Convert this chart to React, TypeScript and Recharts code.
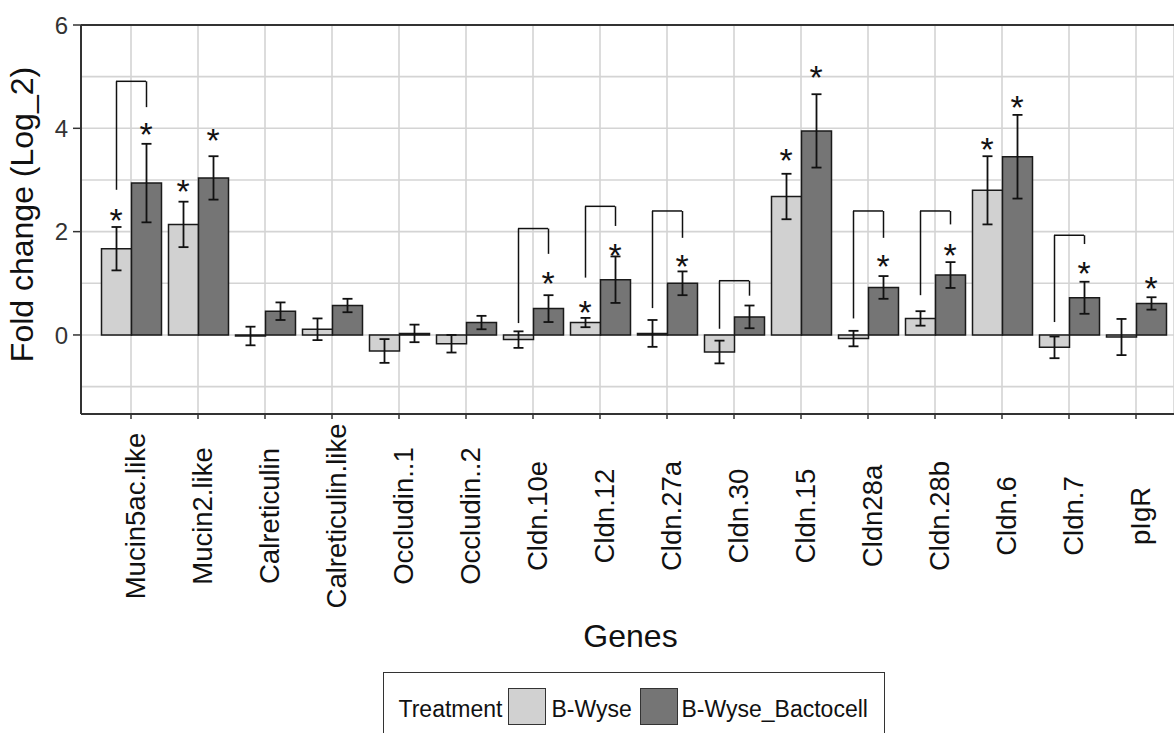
import React from 'react';
import { BarChart, Bar, XAxis, YAxis, CartesianGrid, ErrorBar, ReferenceDot, ReferenceLine, Legend } from 'recharts';

const genes = [
  'Mucin5ac.like', 'Mucin2.like', 'Calreticulin', 'Calreticulin.like', 'Occludin..1', 'Occludin..2',
  'Cldn.10e', 'Cldn.12', 'Cldn.27a', 'Cldn.30', 'Cldn.15', 'Cldn28a', 'Cldn.28b', 'Cldn.6', 'Cldn.7', 'pIgR',
];

// mean log2 fold change and standard error per treatment
const bWyse = [1.67, 2.14, -0.02, 0.11, -0.31, -0.17, -0.09, 0.24, 0.03, -0.33, 2.68, -0.07, 0.32, 2.8, -0.24, -0.04];
const bWyseSe = [0.42, 0.44, 0.18, 0.21, 0.23, 0.17, 0.16, 0.09, 0.26, 0.22, 0.44, 0.15, 0.14, 0.66, 0.21, 0.35];
const bactocell = [2.94, 3.04, 0.46, 0.57, 0.03, 0.24, 0.51, 1.07, 1.0, 0.35, 3.95, 0.92, 1.16, 3.45, 0.72, 0.61];
const bactocellSe = [0.76, 0.42, 0.17, 0.13, 0.17, 0.13, 0.26, 0.45, 0.23, 0.22, 0.71, 0.22, 0.25, 0.81, 0.31, 0.12];

// asterisk heights (null = not significant)
const starBWyse = [2.38, 2.94, null, null, null, null, null, 0.6, null, null, 3.54, null, null, 3.75, null, null];
const starBactocell = [4.04, 3.92, null, null, null, null, 1.16, 1.69, 1.48, null, 5.15, 1.48, 1.69, 4.56, 1.35, 1.06];

// comparison brackets: top height, left leg end, right leg end
const bracketTop = [4.91, null, null, null, null, null, 2.06, 2.49, 2.4, 1.05, null, 2.4, 2.4, null, 1.93, null];
const bracketLeft = [2.81, null, null, null, null, null, 0.23, 1.11, 0.52, 0.12, null, 0.32, 0.77, null, 0.25, null];
const bracketRight = [4.41, null, null, null, null, null, 1.57, 2.11, 1.88, 0.76, null, 1.88, 2.14, null, 1.76, null];

const yTicks = [-1, 0, 1, 2, 3, 4, 5, 6];
const yLabelled = [0, 2, 4, 6];

const FONT = '"Liberation Sans", Arial, sans-serif';
const DODGE = 15;
const STAR_SIZE = 34;

const data = genes.map((gene, i) => ({
  gene,
  bw: bWyse[i],
  bwSe: bWyseSe[i],
  bc: bactocell[i],
  bcSe: bactocellSe[i],
  bwLeg: bracketTop[i] == null ? null : [bWyse[i] - (bracketLeft[i] as number), (bracketTop[i] as number) - bWyse[i]],
  bcLeg: bracketTop[i] == null ? null : [bactocell[i] - (bracketRight[i] as number), (bracketTop[i] as number) - bactocell[i]],
}));

function XTick(props: any) {
  const { x, y, payload } = props;
  return (
    <text transform={`translate(${x + 14},${y + 95}) rotate(-90)`} textAnchor="middle"
      fontSize={27.5} fill="#111" fontFamily={FONT}>{payload.value}</text>
  );
}

function YTick(props: any) {
  const { x, y, payload } = props;
  if (!yLabelled.includes(payload.value)) return <g />;
  return (
    <g>
      <line x1={x} x2={x + 8} y1={y} y2={y} stroke="#333" strokeWidth={1.5} />
      <text x={x - 5} y={y} dy="0.36em" textAnchor="end" fontSize={24} fill="#333" fontFamily={FONT}>{payload.value}</text>
    </g>
  );
}

const star = (shift: number) => (p: any) => (
  <text x={p.cx + shift} y={p.cy + STAR_SIZE * 0.58} textAnchor="middle" fontSize={STAR_SIZE} fill="#111" fontFamily={FONT}>*</text>
);

const bracketBar = (p: any) => (
  <line x1={p.cx - DODGE} x2={p.cx + DODGE} y1={p.cy} y2={p.cy} stroke="#111" strokeWidth={1.5} />
);

function LegendBox(props: any) {
  const items = props.payload || [];
  const keyLeft = [123.5, 255.5];
  const textLeft = [167.5, 297.5];
  return (
    <div style={{ position: 'relative', width: 502, height: 61, boxSizing: 'border-box', border: '1.5px solid #333',
      borderBottom: 'none', background: '#fff', fontFamily: FONT, fontSize: 23, color: '#111', lineHeight: '26px' }}>
      <span style={{ position: 'absolute', left: 14.5, top: 23 }}>Treatment</span>
      {items.map((it: any, i: number) => (
        <React.Fragment key={it.value}>
          <span style={{ position: 'absolute', left: keyLeft[i], top: 14.5, width: 38, height: 37, boxSizing: 'border-box',
            background: it.color, border: '1.5px solid #333' }} />
          <span style={{ position: 'absolute', left: textLeft[i], top: 23, whiteSpace: 'nowrap' }}>{it.value}</span>
        </React.Fragment>
      ))}
    </div>
  );
}

export default function App() {
  return (
    <div style={{ position: 'absolute', left: 0, top: 0, background: '#fff' }}>
      <BarChart width={1174} height={733} data={data} margin={{ top: 25, right: 0, bottom: 0, left: 0 }} barGap={0}>
        <CartesianGrid stroke="#d4d4d4" strokeWidth={1.6} />
        <XAxis dataKey="gene" interval={0} height={319} padding={{ left: 16.5, right: 4.5 }}
          axisLine={{ stroke: '#333', strokeWidth: 2 }} tickLine={{ stroke: '#333', strokeWidth: 1.5 }} tickSize={5}
          tick={<XTick />}
          label={(p: any) => (
            <text x={p.viewBox.x + p.viewBox.width / 2 + 3} y={p.viewBox.y + 233} textAnchor="middle"
              fontSize={32} fill="#111" fontFamily={FONT}>Genes</text>
          )} />
        <YAxis type="number" domain={[-1.53, 6]} allowDataOverflow ticks={yTicks} interval={0} width={81}
          axisLine={{ stroke: '#333', strokeWidth: 2 }} tickLine={false} tickSize={8} tickMargin={0}
          tick={<YTick />}
          label={(p: any) => (
            <text transform={`translate(33,${p.viewBox.y + p.viewBox.height / 2 - 5}) rotate(-90)`} textAnchor="middle"
              fontSize={32} fill="#111" fontFamily={FONT}>Fold change (Log_2)</text>
          )} />
        <ReferenceLine y={6} stroke="#333" strokeWidth={2} />
        <Bar dataKey="bw" name="B-Wyse" fill="#d1d1d1" stroke="#1a1a1a" strokeWidth={1.5} barSize={30} isAnimationActive={false}>
          <ErrorBar dataKey="bwSe" width={5} stroke="#111" strokeWidth={1.8} isAnimationActive={false} />
          <ErrorBar dataKey="bwLeg" width={0} stroke="#111" strokeWidth={1.5} isAnimationActive={false} />
        </Bar>
        <Bar dataKey="bc" name="B-Wyse_Bactocell" fill="#757575" stroke="#1a1a1a" strokeWidth={1.5} barSize={30} isAnimationActive={false}>
          <ErrorBar dataKey="bcSe" width={5} stroke="#111" strokeWidth={1.8} isAnimationActive={false} />
          <ErrorBar dataKey="bcLeg" width={0} stroke="#111" strokeWidth={1.5} isAnimationActive={false} />
        </Bar>
        {genes.map((g, i) => bracketTop[i] == null ? null : (
          <ReferenceDot key={'br' + g} x={g} y={bracketTop[i] as number} r={0} shape={bracketBar} />
        ))}
        {genes.map((g, i) => starBWyse[i] == null ? null : (
          <ReferenceDot key={'sw' + g} x={g} y={starBWyse[i] as number} r={0} shape={star(-DODGE)} />
        ))}
        {genes.map((g, i) => starBactocell[i] == null ? null : (
          <ReferenceDot key={'sb' + g} x={g} y={starBactocell[i] as number} r={0} shape={star(DODGE)} />
        ))}
        <Legend layout="horizontal" verticalAlign="middle" align="center"
          wrapperStyle={{ left: 383, top: 672, width: 502, height: 61 }} content={<LegendBox />} />
      </BarChart>
    </div>
  );
}
